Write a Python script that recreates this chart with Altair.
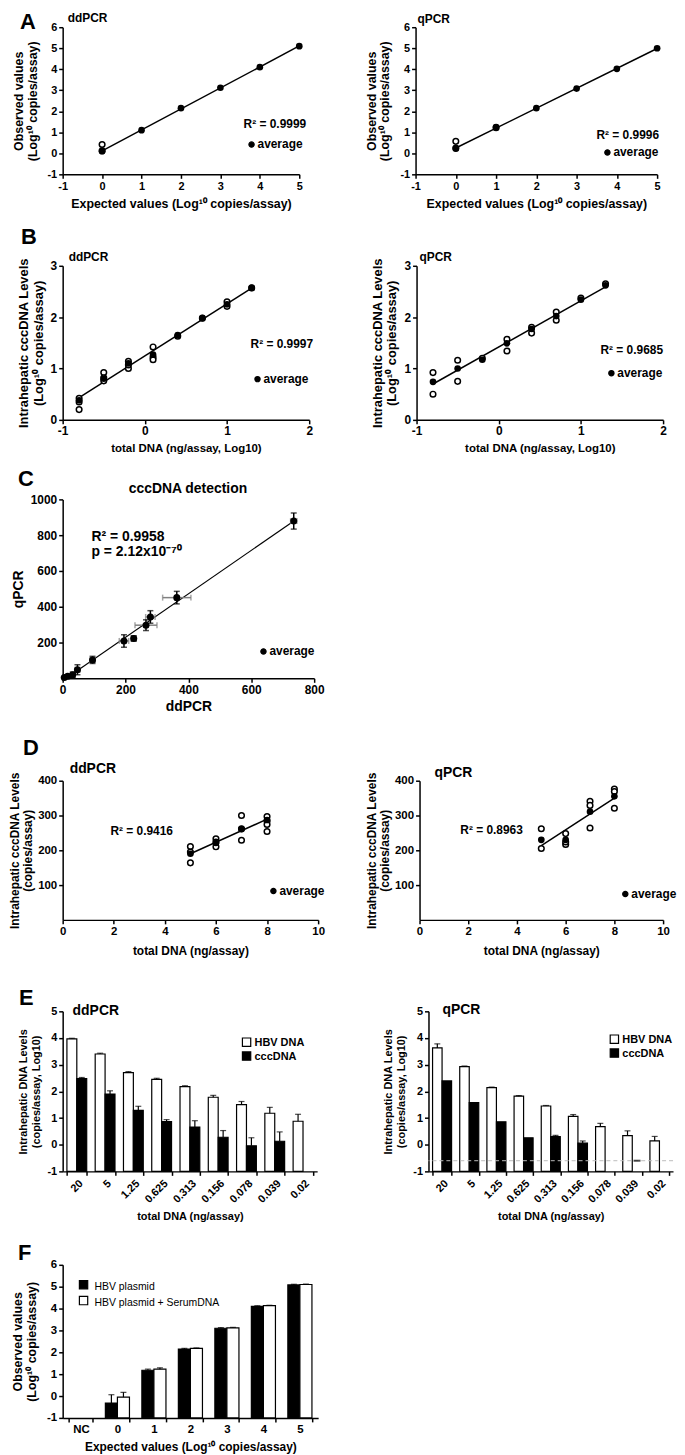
import altair as alt
import pandas as pd

FONT = "Liberation Sans"
ONE = pd.DataFrame({"k": [0]})

# ---------------- Panel A ----------------
a_x = [0, 1, 2, 3, 4, 5]
a_dd_avg = [0.10, 1.10, 2.15, 3.12, 4.10, 5.10]
a_dd_rep_x = [0, 0]
a_dd_rep_y = [0.42, 0.12]
a_q_avg = [0.22, 1.25, 2.15, 3.08, 4.02, 5.00]
a_q_rep_x = [0, 0, 1]
a_q_rep_y = [0.57, 0.25, 1.22]

# ---------------- Panel B ----------------
b_x = [-0.8, -0.5, -0.2, 0.1, 0.4, 0.7, 1.0, 1.3]
b_dd_avg = [0.38, 0.80, 1.10, 1.27, 1.65, 1.98, 2.25, 2.57]
b_dd_rep_x = [-0.8, -0.8, -0.8, -0.5, -0.5, -0.5, -0.2, -0.2, -0.2, 0.1, 0.1, 0.1, 0.4, 0.7, 1.0, 1.0, 1.3]
b_dd_rep_y = [0.20, 0.42, 0.35, 0.92, 0.82, 0.76, 1.00, 1.14, 1.07, 1.42, 1.22, 1.17, 1.63, 1.98, 2.30, 2.21, 2.57]
b_q_avg = [0.74, 1.00, 1.17, 1.49, 1.77, 2.02, 2.34, 2.62]
b_q_rep_x = [-0.8, -0.8, -0.5, -0.5, -0.2, 0.1, 0.1, 0.4, 0.4, 0.7, 0.7, 1.0, 1.3]
b_q_rep_y = [0.92, 0.50, 1.16, 0.75, 1.20, 1.57, 1.34, 1.69, 1.80, 2.10, 1.94, 2.37, 2.65]

# ---------------- Panel C ----------------
c_dd = [5, 16, 32, 47, 95, 195, 226, 265, 279, 363, 735]
c_q = [5, 11, 20, 48, 103, 209, 223, 297, 343, 451, 879]
c_dd_err = [3, 5, 6, 8, 8, 15, 8, 35, 15, 45, 10]
c_q_err = [4, 8, 15, 28, 20, 35, 15, 30, 35, 35, 45]

# ---------------- Panel D ----------------
d_x = [5, 6, 7, 8]
d_dd_avg = [190, 221, 261, 287]
d_dd_rep_x = [5, 5, 5, 6, 6, 6, 7, 7, 7, 8, 8, 8, 8]
d_dd_rep_y = [211, 164, 195, 233, 210, 224, 300, 229, 262, 297, 284, 274, 254]
d_q_avg = [230, 230, 311, 355]
d_q_rep_x = [5, 5, 6, 6, 6, 7, 7, 7, 8, 8, 8]
d_q_rep_y = [262, 205, 248, 217, 224, 341, 329, 264, 376, 369, 321]

# ---------------- Panel E ----------------
e_cats = ["20", "5", "1.25", "0.625", "0.313", "0.156", "0.078", "0.039", "0.02"]
e_series = ["HBV DNA", "cccDNA"]
e_dd_hbv = [3.97, 3.40, 2.70, 2.45, 2.18, 1.78, 1.50, 1.18, 0.88]
e_dd_hbv_err = [0.02, 0.03, 0.04, 0.04, 0.03, 0.07, 0.12, 0.22, 0.26]
e_dd_ccc = [2.48, 1.90, 1.29, 0.87, 0.66, 0.28, -0.04, 0.13, None]
e_dd_ccc_err = [0.04, 0.12, 0.15, 0.07, 0.24, 0.25, 0.30, 0.35, 0]
e_q_hbv = [3.63, 2.93, 2.14, 1.82, 1.45, 1.06, 0.68, 0.34, 0.14]
e_q_hbv_err = [0.15, 0.02, 0.02, 0.02, 0.02, 0.07, 0.12, 0.18, 0.17]
e_q_ccc = [2.39, 1.58, 0.86, 0.26, 0.30, 0.06, None, None, None]
e_q_ccc_err = [0, 0, 0, 0, 0.05, 0.08, 0, 0, 0]
e_q_lod = -0.6

# ---------------- Panel F ----------------
f_cats = ["NC", "0", "1", "2", "3", "4", "5"]
f_series = ["HBV plasmid", "HBV plasmid + SerumDNA"]
f_plasmid = [None, -0.32, 1.18, 2.15, 3.10, 4.10, 5.08]
f_plasmid_err = [0, 0.38, 0.05, 0.03, 0.03, 0.03, 0.03]
f_serum = [None, -0.05, 1.23, 2.18, 3.12, 4.13, 5.10]
f_serum_err = [0, 0.22, 0.06, 0.02, 0.02, 0.02, 0.02]


# ---------------- helpers ----------------
def txt(s, x, y, size=12, weight="bold", align="left"):
    return alt.Chart(ONE).mark_text(
        text=s, font=FONT, fontSize=size, fontWeight=weight, align=align,
        baseline="alphabetic", color="black").encode(x=alt.value(x), y=alt.value(y))


def glyph(x, y, size=28, shape="circle", fill="black"):
    return alt.Chart(ONE).mark_point(
        shape=shape, size=size, filled=True, fill=fill, stroke="black",
        strokeWidth=1.2, opacity=1).encode(x=alt.value(x), y=alt.value(y))


def anchor(x, y):
    return alt.Chart(ONE).mark_rule(color="white", strokeWidth=1).encode(
        x=alt.value(x), x2=alt.value(x + 1), y=alt.value(y), y2=alt.value(y))


def frame(w, h, L, R, T, B):
    return [anchor(-L, -T), anchor(w + R - 1, h + B)]


def avg_legend(x, y, size=12):
    return [glyph(x, y, size=28), txt("average", x + 6, y + 4, size=size)]


def scatter(avg_x, avg_y, rep_x, rep_y, xdom, ydom, xvals, yvals, ext,
            xtitle, ytitle, xts, yts, lab=11, ypad=8, xpad=6, lh=14):
    avg = pd.DataFrame({"x": avg_x, "y": avg_y})
    rep = pd.DataFrame({"x": rep_x, "y": rep_y})
    X = alt.X("x:Q", scale=alt.Scale(domain=xdom, nice=False, zero=False),
              axis=alt.Axis(values=xvals, title=xtitle, titleFontSize=xts, labelFontSize=lab,
                            labelExpr="datum.value + ''", titlePadding=xpad, labelFlush=False))
    Y = alt.Y("y:Q", scale=alt.Scale(domain=ydom, nice=False, zero=False),
              axis=alt.Axis(values=yvals, title=ytitle, titleFontSize=yts, labelFontSize=lab,
                            labelExpr="datum.value + ''", titlePadding=ypad, titleLineHeight=lh,
                            labelFlush=False))
    reg = alt.Chart(avg).transform_regression(on="x", regression="y", extent=ext).mark_line(
        color="black", strokeWidth=1.5).encode(x=X, y=Y)
    opn = alt.Chart(rep).mark_point(shape="circle", size=32, filled=True, fill="white",
                                    stroke="black", strokeWidth=1.5, opacity=1).encode(x=X, y=Y)
    fil = alt.Chart(avg).mark_circle(size=45, color="black", opacity=1).encode(x=X, y=Y)
    return [reg, opn, fil]


def bars(cats, series, vals_list, errs_list, fills, w, ydom, yvals, xtitle, ytitle,
         pi, xts, yts, angle=0, lab=11, ypad=6, xpad=6, lh=13):
    bw = w / len(cats) * (1 - pi) / 2
    X = alt.X("cat:N", sort=cats, scale=alt.Scale(domain=cats, paddingInner=pi, paddingOuter=pi / 2),
              axis=alt.Axis(title=xtitle, labelAngle=angle, tickBand="extent", titleFontSize=xts,
                            labelFontSize=lab, titlePadding=xpad))
    y_axis = alt.Axis(values=yvals, title=ytitle, titleFontSize=yts, labelFontSize=lab,
                      labelExpr="datum.value + ''", titlePadding=ypad, titleLineHeight=lh,
                      labelFlush=False, labelOverlap=False)
    y_sc = alt.Scale(domain=ydom, nice=False, zero=False)
    Y = alt.Y("v:Q", scale=y_sc, axis=y_axis)
    Yhi = alt.Y("hi:Q", scale=y_sc, axis=y_axis)
    layers = []
    offs = []
    for i, (s, vals, errs, fill) in enumerate(zip(series, vals_list, errs_list, fills)):
        off = (i - 0.5) * bw
        offs.append(off)
        rows = [{"cat": c, "v": v, "e": e} for c, v, e in zip(cats, vals, errs) if v is not None]
        df = pd.DataFrame(rows)
        layers.append(alt.Chart(df).mark_bar(width=bw, xOffset=off, fill=fill, stroke="black",
                                             strokeWidth=1.2).encode(x=X, y=Y, y2=alt.datum(ydom[0])))
        edf = df[df.e > 0]
        eb = alt.Chart(edf).transform_calculate(hi="datum.v + datum.e")
        layers.append(eb.mark_rule(color="black", strokeWidth=1.2, xOffset=off).encode(
            x=X, y=Y, y2="hi:Q"))
        layers.append(eb.mark_tick(orient="horizontal", color="black", thickness=1.2, size=6,
                                   xOffset=off).encode(x=X, y=Yhi))
    return {"layers": layers, "X": X, "Y": Y, "offs": offs, "ysc": y_sc, "yax": y_axis}


LOG_T = ["Observed values", "(Log¹⁰ copies/assay)"]
EXP_T = "Expected values (Log¹⁰ copies/assay)"

# ---------------- Row A ----------------
A_dd = alt.layer(
    *scatter(a_x, a_dd_avg, a_dd_rep_x, a_dd_rep_y, [-1, 5], [-1, 6], list(range(-1, 6)),
             list(range(-1, 7)), [0, 5], EXP_T, LOG_T, 12.5, 12.5),
    txt("A", -43, 2, size=22), txt("ddPCR", 5, -5, size=12),
    txt("R² = 0.9999", 182, 101, size=12), *avg_legend(190, 118),
    *frame(238, 148, 54, 57, 21, 43)
).properties(width=238, height=148)

A_q = alt.layer(
    *scatter(a_x, a_q_avg, a_q_rep_x, a_q_rep_y, [-1, 5], [-1, 6], list(range(-1, 6)),
             list(range(-1, 7)), [0, 5], EXP_T, LOG_T, 12.5, 12.5),
    txt("qPCR", 2, -4, size=12),
    txt("R² = 0.9996", 182, 112, size=12), *avg_legend(193, 126),
    *frame(243, 148, 58, 4, 21, 43)
).properties(width=243, height=148)

# ---------------- Row B ----------------
B_T = ["Intrahepatic cccDNA Levels", "(Log¹⁰ copies/assay)"]
B_X = "total DNA (ng/assay, Log10)"
B_dd = alt.layer(
    *scatter(b_x, b_dd_avg, b_dd_rep_x, b_dd_rep_y, [-1, 2], [0, 3], [-1, 0, 1, 2], [0, 1, 2, 3],
             [-0.8, 1.3], B_X, B_T, 11.5, 13, lab=12, ypad=5, lh=15),
    txt("B", -42, -22, size=22), txt("ddPCR", 6, -5, size=12),
    txt("R² = 0.9997", 189, 83, size=12), *avg_legend(196, 114),
    *frame(248, 155, 54, 48, 47, 40)
).properties(width=248, height=155)

B_q = alt.layer(
    *scatter(b_x, b_q_avg, b_q_rep_x, b_q_rep_y, [-1, 2], [0, 3], [-1, 0, 1, 2], [0, 1, 2, 3],
             [-0.8, 1.3], B_X, B_T, 11.5, 13, lab=12, ypad=5, lh=15),
    txt("qPCR", 3, -5, size=12),
    txt("R² = 0.9685", 185, 89, size=12), *avg_legend(196, 108),
    *frame(248, 155, 58, 4, 47, 40)
).properties(width=248, height=155)

# ---------------- Panel C ----------------
c_df = pd.DataFrame({"dd": c_dd, "q": c_q, "dde": c_dd_err, "qe": c_q_err})
cx_sc = alt.Scale(domain=[0, 800], nice=False)
cy_sc = alt.Scale(domain=[0, 1000], nice=False)
cx_ax = alt.Axis(values=[0, 200, 400, 600, 800], title="ddPCR", titleFontSize=14,
                 labelFontSize=12, titlePadding=4, labelFlush=False, labelExpr="datum.value + ''")
cy_ax = alt.Axis(values=[200, 400, 600, 800, 1000], title="qPCR", titleFontSize=14,
                 labelFontSize=12, titlePadding=5, labelFlush=False, labelExpr="datum.value + ''")
CX = alt.X("dd:Q", scale=cx_sc, axis=cx_ax)
CY = alt.Y("q:Q", scale=cy_sc, axis=cy_ax)
c_base = alt.Chart(c_df).transform_calculate(
    xlo="datum.dd - datum.dde", xhi="datum.dd + datum.dde",
    ylo="datum.q - datum.qe", yhi="datum.q + datum.qe")
C_layers = [
    alt.Chart(c_df).transform_regression(on="dd", regression="q", extent=[0, 740]).mark_line(
        color="black", strokeWidth=1.2).encode(x=CX, y=CY),
    c_base.mark_rule(color="#808080", strokeWidth=1.5).encode(
        x=alt.X("xlo:Q", scale=cx_sc, axis=cx_ax), x2="xhi:Q", y=CY),
    c_base.mark_tick(orient="vertical", color="#808080", thickness=1.5, size=6).encode(
        x=alt.X("xlo:Q", scale=cx_sc, axis=cx_ax), y=CY),
    c_base.mark_tick(orient="vertical", color="#808080", thickness=1.5, size=6).encode(
        x=alt.X("xhi:Q", scale=cx_sc, axis=cx_ax), y=CY),
    c_base.mark_rule(color="black", strokeWidth=1.5).encode(
        x=CX, y=alt.Y("ylo:Q", scale=cy_sc, axis=cy_ax), y2="yhi:Q"),
    c_base.mark_tick(orient="horizontal", color="black", thickness=1.5, size=6).encode(
        x=CX, y=alt.Y("ylo:Q", scale=cy_sc, axis=cy_ax)),
    c_base.mark_tick(orient="horizontal", color="black", thickness=1.5, size=6).encode(
        x=CX, y=alt.Y("yhi:Q", scale=cy_sc, axis=cy_ax)),
    alt.Chart(c_df).mark_circle(size=50, color="black", opacity=1).encode(x=CX, y=CY),
]
C = alt.layer(
    *C_layers,
    txt("C", -45, -13, size=22), txt("cccDNA detection", 126, -6, size=14, align="center"),
    txt("R² = 0.9958", 29, 42, size=14), txt("p = 2.12x10⁻⁷⁰", 29, 57, size=14),
    *avg_legend(202, 153, size=12),
    *frame(253, 180, 54, 10, 38, 49)
).properties(width=253, height=180)

# ---------------- Row D ----------------
D_T = ["Intrahepatic cccDNA Levels", "(copies/assay)"]
D_X = "total DNA (ng/assay)"
D_dd = alt.layer(
    *scatter(d_x, d_dd_avg, d_dd_rep_x, d_dd_rep_y, [0, 10], [0, 400], [0, 2, 4, 6, 8, 10],
             [100, 200, 300, 400], [5, 8], D_X, D_T, 12, 12, lab=11.5, ypad=3, xpad=8, lh=13),
    txt("D", -40, -26, size=22), txt("ddPCR", 7, -8, size=14),
    txt("R² = 0.9416", 48, 55, size=12), *avg_legend(212, 111),
    *frame(257, 140, 54, 45, 52, 50)
).properties(width=257, height=140)

D_q = alt.layer(
    *scatter(d_x, d_q_avg, d_q_rep_x, d_q_rep_y, [0, 10], [0, 400], [0, 2, 4, 6, 8, 10],
             [100, 200, 300, 400], [5, 8], D_X, D_T, 12, 12, lab=11.5, ypad=3, xpad=8, lh=13),
    txt("qPCR", 15, -4, size=14),
    txt("R² = 0.8963", 41, 54, size=12), *avg_legend(207, 114),
    *frame(245, 140, 55, 2, 52, 50)
).properties(width=245, height=140)

# ---------------- Row E ----------------
E_T = ["Intrahepatic DNA Levels", "(copies/assay, Log10)"]
E_X = "total DNA (ng/assay)"
E_fills = ["white", "black"]


def e_legend(x, y):
    return [glyph(x, y, size=70, shape="square", fill="white"),
            txt("HBV DNA", x + 8, y + 4, size=11),
            glyph(x, y + 14, size=70, shape="square", fill="black"),
            txt("cccDNA", x + 8, y + 18, size=11)]


e_dd = bars(e_cats, e_series, [e_dd_hbv, e_dd_ccc], [e_dd_hbv_err, e_dd_ccc_err],
            E_fills, 256, [-1, 5], list(range(-1, 6)), E_X, E_T, 0.3, 11, 11, angle=-45, lab=11)
E_dd = alt.layer(
    *e_dd["layers"],
    txt("E", -44, -6, size=22), txt("ddPCR", 10, 4, size=14),
    *e_legend(185, 31),
    *frame(256, 161, 54, 52, 40, 57)
).properties(width=256, height=161)

e_q = bars(e_cats, e_series, [e_q_hbv, e_q_ccc], [e_q_hbv_err, e_q_ccc_err],
           E_fills, 246, [-1, 5], list(range(-1, 6)), E_X, E_T, 0.3, 11, 11, angle=-45, lab=11)
lod_rule = alt.Chart(ONE).mark_rule(color="#bbbbbb", strokeDash=[4, 3], strokeWidth=1).encode(
    y=alt.YDatum(e_q_lod, scale=e_q["ysc"], axis=e_q["yax"]))
lod_tick = alt.Chart(pd.DataFrame({"cat": ["0.039"], "v": [e_q_lod]})).mark_tick(
    orient="horizontal", color="black", thickness=2, size=7, xOffset=e_q["offs"][1]).encode(
    x=e_q["X"], y=e_q["Y"])
E_q = alt.layer(
    *e_q["layers"], lod_rule, lod_tick,
    txt("qPCR", 14, 3, size=14),
    *e_legend(187, 28),
    *frame(246, 161, 58, 2, 40, 57)
).properties(width=246, height=161)

# ---------------- Panel F ----------------
f = bars(f_cats, f_series, [f_plasmid, f_serum], [f_plasmid_err, f_serum_err],
         ["black", "white"], 257, [-1, 6], list(range(-1, 7)), EXP_T, LOG_T, 0.34,
         12, 12.5, angle=0, lab=11.5, ypad=8, lh=14)
F = alt.layer(
    *f["layers"],
    txt("F", -45, -5, size=22),
    glyph(21, 20, size=70, shape="square", fill="black"),
    txt("HBV plasmid", 32, 25, size=10.5, weight="normal"),
    glyph(21, 36, size=70, shape="square", fill="white"),
    txt("HBV plasmid + SerumDNA", 32, 41, size=10.5, weight="normal"),
    *frame(257, 154, 54, 10, 35, 34)
).properties(width=257, height=154)

rowA = alt.hconcat(A_dd, A_q, spacing=0)
rowB = alt.hconcat(B_dd, B_q, spacing=0)
rowD = alt.hconcat(D_dd, D_q, spacing=0)
rowE = alt.hconcat(E_dd, E_q, spacing=0)

PAD = {"left": 0, "top": -7, "right": 0, "bottom": 0}
chart = alt.vconcat(rowA, rowB, C, rowD, rowE, F, spacing=0).properties(
    padding=PAD, background="white"
).configure_axis(
    domainColor="black", domainWidth=1.5, tickColor="black", tickWidth=1.5, tickSize=4,
    labelPadding=2, labelFont=FONT, labelFontWeight="bold", labelColor="black",
    titleFont=FONT, titleFontWeight="bold", titleColor="black", grid=False
).configure_view(stroke=None)

chart.save("out.html", embed_options={"renderer": "svg", "actions": False})
